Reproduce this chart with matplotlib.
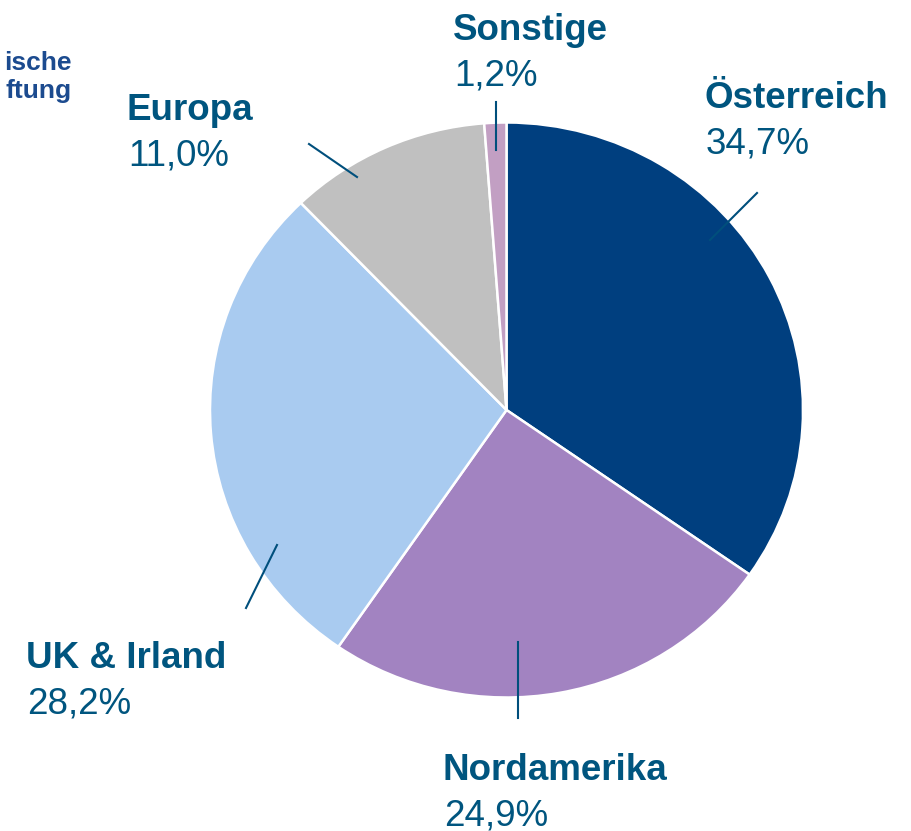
import matplotlib
matplotlib.use("Agg")
import matplotlib.pyplot as plt

plt.rcParams['font.family'] = ['Liberation Sans', 'DejaVu Sans']

# data
regions = ["Österreich", "Nordamerika", "UK & Irland", "Europa", "Sonstige"]
shares = [34.7, 24.9, 28.2, 11.0, 1.2]
colors = ["#003F7F", "#A283C1", "#A9CBF0", "#C0C0C0", "#C29FC3"]

# label anchors in pixel coords (x, baseline of name)
label_pos = [(705, 108), (443, 780), (26, 668), (127, 120), (453, 40)]
# leader lines in pixel coords
leaders = [((757, 193), (710, 240)),
           ((518, 642), (518, 718)),
           ((277, 545), (246, 608)),
           ((309, 144), (357, 177)),
           ((496, 102), (496, 150))]

W, H = 912, 831
txt_col = "#00557F"
line_col = "#004F7C"

fig = plt.figure(figsize=(W / 100, H / 100), dpi=100)

# pie axes (pie is slightly wider than tall in the reference)
cx, cy, rx, ry = 506.5, 410, 296.5, 287.5
pax = fig.add_axes([(cx - rx) / W, (H - cy - ry) / H, 2 * rx / W, 2 * ry / H])
pax.pie(shares, colors=colors, startangle=90, counterclock=False,
        wedgeprops=dict(edgecolor="white", linewidth=1.8))
pax.set_aspect("auto")
pax.set_xlim(-1, 1)
pax.set_ylim(-1, 1)
pax.axis("off")

# overlay axes in pixel coords for labels
ax = fig.add_axes([0, 0, 1, 1])
ax.set_xlim(0, W)
ax.set_ylim(H, 0)
ax.axis("off")

for name, val, (x, y) in zip(regions, shares, label_pos):
    ax.text(x, y, name, fontsize=26.5, fontweight="bold", color=txt_col,
            ha="left", va="baseline")
    ax.text(x + 1, y + 46, f"{val:.1f}%".replace(".", ","), fontsize=26.5,
            color=txt_col, ha="left", va="baseline")

for (x0, y0), (x1, y1) in leaders:
    ax.plot([x0, x1], [y0, y1], color=line_col, lw=1.5)

# cut-off logo text at top left
for s, yb in [("ische", 70), ("ftung", 98)]:
    ax.text(72, yb, s, fontsize=19, fontweight="bold", color="#1C4B8F",
            ha="right", va="baseline", fontstretch="condensed")

fig.savefig("out.png", dpi=100)
